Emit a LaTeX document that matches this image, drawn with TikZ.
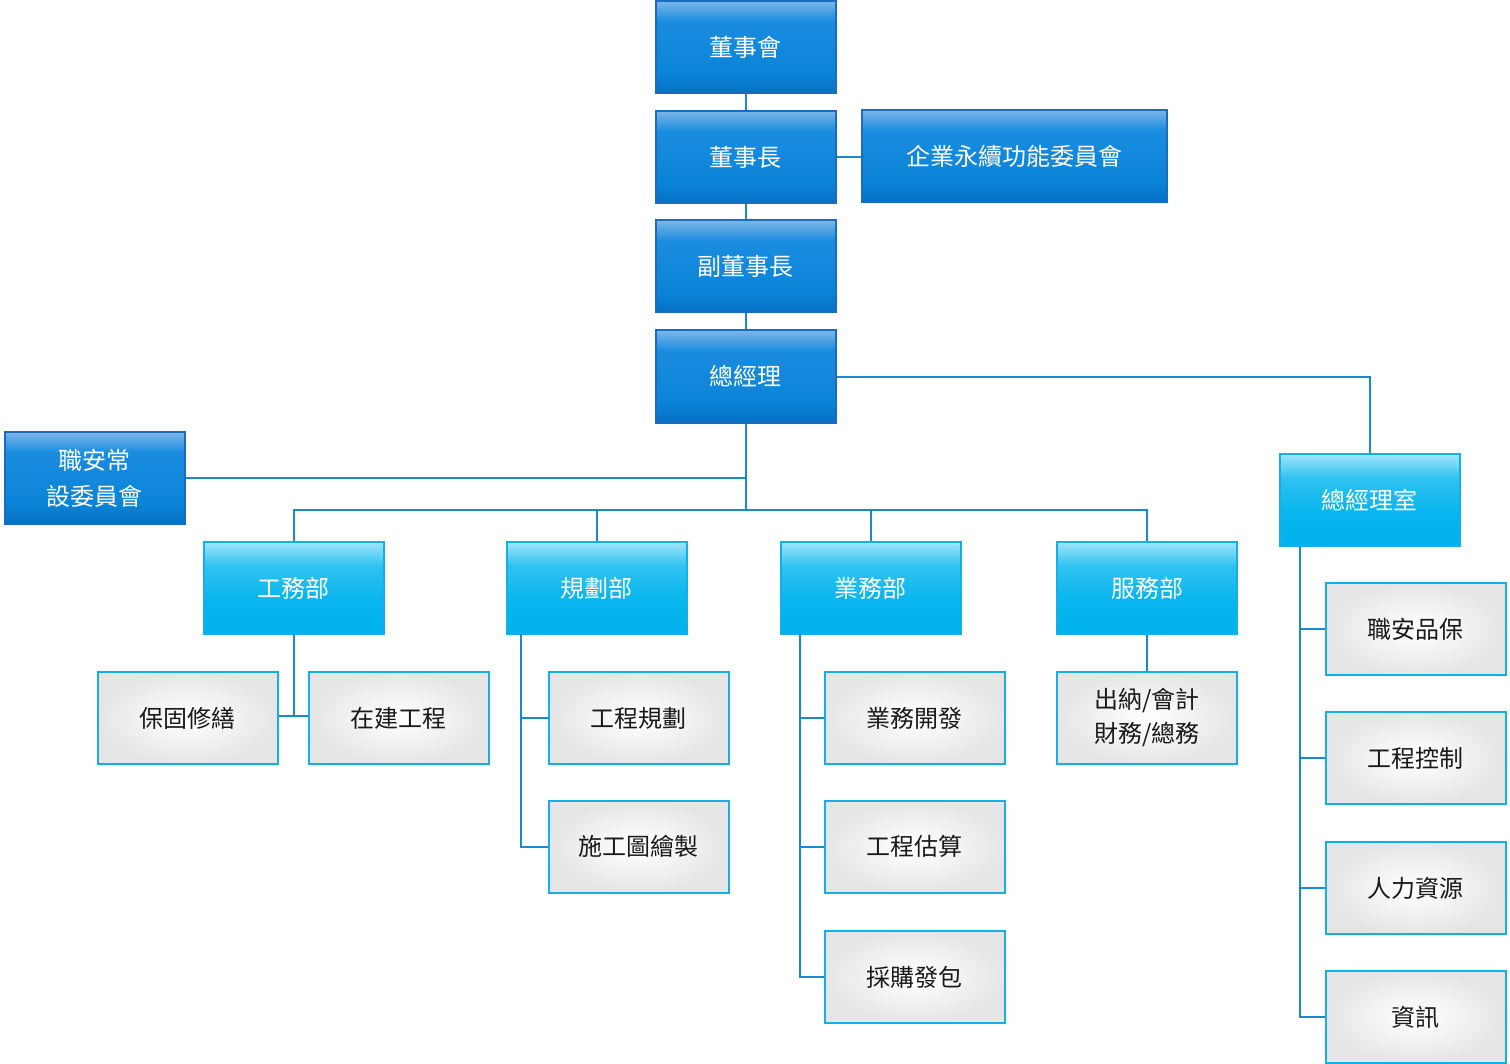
\documentclass[tikz,border=0pt]{standalone}
\usepackage{fontspec}
\setmainfont{Noto Sans CJK TC}
\usepackage{tikz}
\definecolor{linecol}{HTML}{1A8AD0}
\definecolor{darkedge}{HTML}{1A6CC0}
\definecolor{cyanedge}{HTML}{12B0E6}
\definecolor{dkbot}{HTML}{0670C4}
\definecolor{dkmid}{HTML}{0A84D8}
\definecolor{dkhigh}{HTML}{1A8CE0}
\definecolor{dktop}{HTML}{7CB6E8}
\definecolor{cybot}{HTML}{00B2EC}
\definecolor{cymid}{HTML}{0AB6EE}
\definecolor{cyhigh}{HTML}{30C2F0}
\definecolor{cytop}{HTML}{A0E6FA}
\pgfdeclareverticalshading{darkblue}{100bp}{color(0bp)=(dkbot); color(25bp)=(dkbot); color(36bp)=(dkmid); color(64bp)=(dkhigh); color(75bp)=(dktop); color(100bp)=(dktop)}
\pgfdeclareverticalshading{cyanblue}{100bp}{color(0bp)=(cybot); color(25bp)=(cybot); color(45bp)=(cymid); color(62bp)=(cyhigh); color(75bp)=(cytop); color(100bp)=(cytop)}

\begin{document}
\begin{tikzpicture}[x=0.5pt, y=-0.5pt,
    font=\fontsize{12}{17}\selectfont,
    board/.style={draw=darkedge, line width=1pt, shading=darkblue, text=white,
        minimum width=90pt, minimum height=46pt, align=center, inner sep=0pt},
    dept/.style={draw=cyanedge, line width=1pt, shading=cyanblue, text=white,
        minimum width=90pt, minimum height=46pt, align=center, inner sep=0pt},
    unit/.style={draw=cyanedge, line width=1pt, inner color=white, outer color=black!10,
        text=black!90, minimum width=90pt, minimum height=46pt, align=center, inner sep=0pt},
    link/.style={draw=linecol, line width=1pt}]
        \useasboundingbox (0,0) rectangle (1510,1064);

        % Top of the chart
        \node[board] (bod) at (745.5,47) {董事會};
        \node[board] (chair) at (745.5,157) {董事長};
        \node[board, minimum width=152.5pt] (esg) at (1014.5,156) {企業永續功能委員會};
        \node[board] (vice) at (745.5,266.5) {副董事長};
        \node[board] (gm) at (745.5,376.5) {總經理};
        \node[board] (safety) at (94.5,478) {職安常\\[1pt]設委員會};
        \node[dept] (gmo) at (1369.5,500) {總經理室};

        % Departments
        \node[dept] (works) at (293.5,588) {工務部};
        \node[dept] (plan) at (596.5,588) {規劃部};
        \node[dept] (sales) at (870.5,588) {業務部};
        \node[dept] (service) at (1147,588) {服務部};

        % Units under each department
        \node[unit] (warranty) at (187.5,718) {保固修繕};
        \node[unit] (building) at (398.5,718) {在建工程};
        \node[unit] (planning) at (638.5,718) {工程規劃};
        \node[unit] (drawing) at (638.5,846.5) {施工圖繪製};
        \node[unit] (develop) at (914.5,718) {業務開發};
        \node[unit] (estimate) at (914.5,846.5) {工程估算};
        \node[unit] (purchase) at (914.5,977) {採購發包};
        \node[unit] (finance) at (1147,718) {出納/會計\\財務/總務};
        \node[unit] (quality) at (1415.5,629) {職安品保};
        \node[unit] (control) at (1415.5,758) {工程控制};
        \node[unit] (hr) at (1415.5,888) {人力資源};
        \node[unit] (it) at (1415.5,1017) {資訊};

        % Spine points
        \coordinate (bus) at (746,510);
        \coordinate (worksjoin) at (294,716);
        \coordinate (planspine) at (521,634);
        \coordinate (salesspine) at (800,634);
        \coordinate (gmospine) at (1300,546);

        % Connectors
        \draw[link] (bod) -- (chair);
        \draw[link] (chair.east) -- (chair.east -| esg.west);
        \draw[link] (chair) -- (vice);
        \draw[link] (vice) -- (gm);
        \draw[link] (gm.south) -- (gm.south |- bus);
        \draw[link] (safety.east) -- (safety.east -| gm.south);
        \draw[link] (gm.east) -| (gmo.north);
        \draw[link] (works.north) |- (service.north |- bus) -- (service.north);
        \draw[link] (plan.north) -- (plan.north |- bus);
        \draw[link] (sales.north) -- (sales.north |- bus);
        \draw[link] (works.south) -- (works.south |- worksjoin);
        \draw[link] (warranty.east |- worksjoin) -- (building.west |- worksjoin);
        \draw[link] (planspine) |- (planning.west);
        \draw[link] (planspine) |- (drawing.west);
        \draw[link] (salesspine) |- (develop.west);
        \draw[link] (salesspine) |- (estimate.west);
        \draw[link] (salesspine) |- (purchase.west);
        \draw[link] (service) -- (finance);
        \draw[link] (gmospine) |- (quality.west);
        \draw[link] (gmospine) |- (control.west);
        \draw[link] (gmospine) |- (hr.west);
        \draw[link] (gmospine) |- (it.west);
    \end{tikzpicture}
\end{document}
